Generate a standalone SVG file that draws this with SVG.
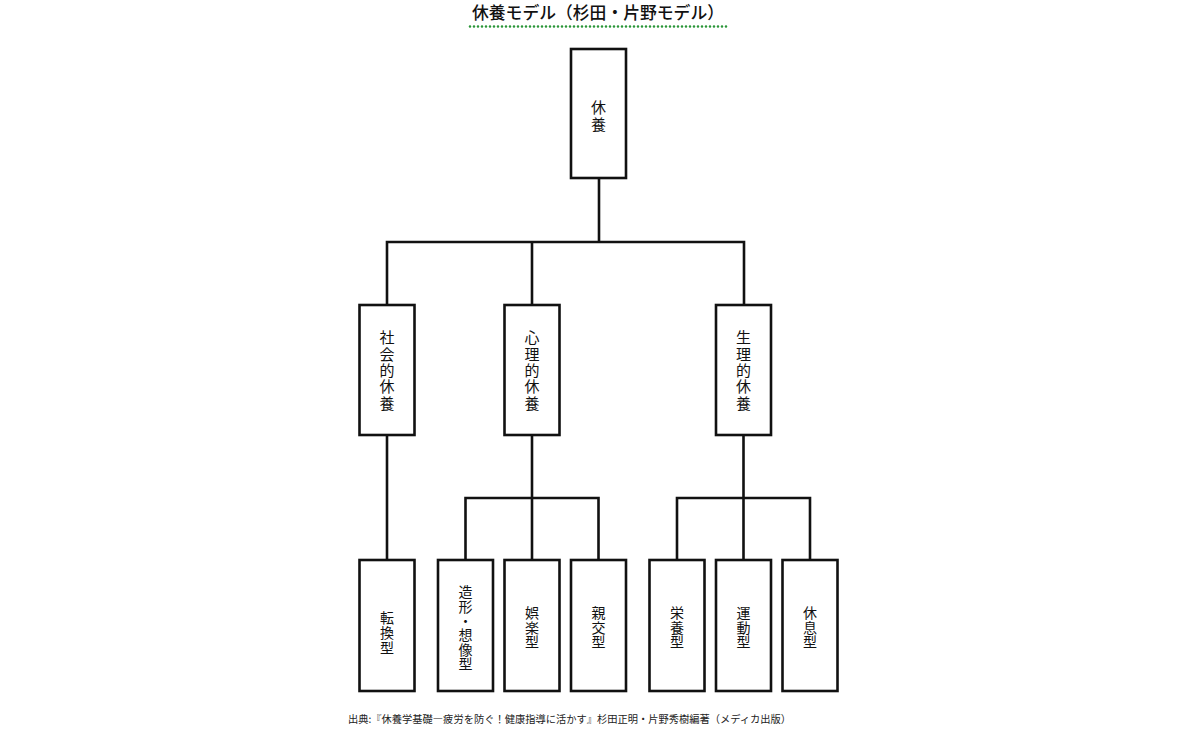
<svg xmlns="http://www.w3.org/2000/svg" width="1200" height="741" viewBox="0 0 1200 741">
<style>
.box{fill:#fff;stroke:#111;stroke-width:2.6}
.ln{fill:none;stroke:#111;stroke-width:2.6;stroke-linecap:square}
.lbl{font-family:"Noto Sans CJK JP","Noto Sans CJK SC",sans-serif;font-size:15px;fill:#111;text-anchor:middle;writing-mode:vertical-rl;letter-spacing:1.4px}
.sm{font-size:14px;letter-spacing:0.6px}
.title{font-family:"Noto Sans CJK JP","Noto Sans CJK SC",sans-serif;font-size:17px;font-weight:500;fill:#111}
.note{font-family:"Noto Sans CJK JP","Noto Sans CJK SC",sans-serif;font-size:10.5px;fill:#222}
</style>
<rect width="1200" height="741" fill="#fff"/>
<g id="title">
<text class="title" x="472" y="19" textLength="252" lengthAdjust="spacingAndGlyphs">休養モデル（杉田・片野モデル）</text>
<line x1="470" y1="26.5" x2="728" y2="26.5" stroke="#2a9638" stroke-width="2.6" stroke-linecap="round" stroke-dasharray="0 4"/>
</g>
<g id="connectors">
<path class="ln" d="M599 178V242M387 242H744M387 242V305M532 242V305M744 242V305"/>
<path class="ln" d="M387 435V560"/>
<path class="ln" d="M532 435V498M465.5 498H598.5M465.5 498V560M532 498V560M598.5 498V560"/>
<path class="ln" d="M743.5 435V498M677 498H810M677 498V560M743.5 498V560M810 498V560"/>
</g>
<g id="n-kyuyo">
<rect class="box" x="571" y="49" width="55" height="129"/>
<text class="lbl" x="598.5" y="117" style="letter-spacing:2px">休養</text>
</g>
<g id="n-shakai">
<rect class="box" x="359.5" y="305" width="55" height="130"/>
<text class="lbl" x="387" y="371">社会的休養</text>
</g>
<g id="n-shinri">
<rect class="box" x="504.5" y="305" width="55" height="130"/>
<text class="lbl" x="532" y="371">心理的休養</text>
</g>
<g id="n-seiri">
<rect class="box" x="716" y="305" width="55" height="130"/>
<text class="lbl" x="743.5" y="371">生理的休養</text>
</g>
<g id="n-tenkan">
<rect class="box" x="359.5" y="560" width="55" height="131"/>
<text class="lbl sm" x="387" y="633">転換型</text>
</g>
<g id="n-zoukei">
<rect class="box" x="438" y="560" width="55" height="131"/>
<text class="lbl sm" x="465.5" y="628" style="letter-spacing:0.3px">造形・想像型</text>
</g>
<g id="n-goraku">
<rect class="box" x="504.5" y="560" width="55" height="131"/>
<text class="lbl sm" x="532" y="627.5">娯楽型</text>
</g>
<g id="n-shinkou">
<rect class="box" x="571" y="560" width="55" height="131"/>
<text class="lbl sm" x="598.5" y="627.5">親交型</text>
</g>
<g id="n-eiyou">
<rect class="box" x="649.5" y="560" width="55" height="131"/>
<text class="lbl sm" x="677" y="627.5">栄養型</text>
</g>
<g id="n-undou">
<rect class="box" x="716" y="560" width="55" height="131"/>
<text class="lbl sm" x="743.5" y="627.5">運動型</text>
</g>
<g id="n-kyusoku">
<rect class="box" x="782.5" y="560" width="55" height="131"/>
<text class="lbl sm" x="810" y="627.5">休息型</text>
</g>
<g id="source">
<text class="note" x="348" y="722.5" textLength="443" lengthAdjust="spacingAndGlyphs">出典:『休養学基礎―疲労を防ぐ！健康指導に活かす』杉田正明・片野秀樹編著（メディカ出版）</text>
</g>
</svg>
